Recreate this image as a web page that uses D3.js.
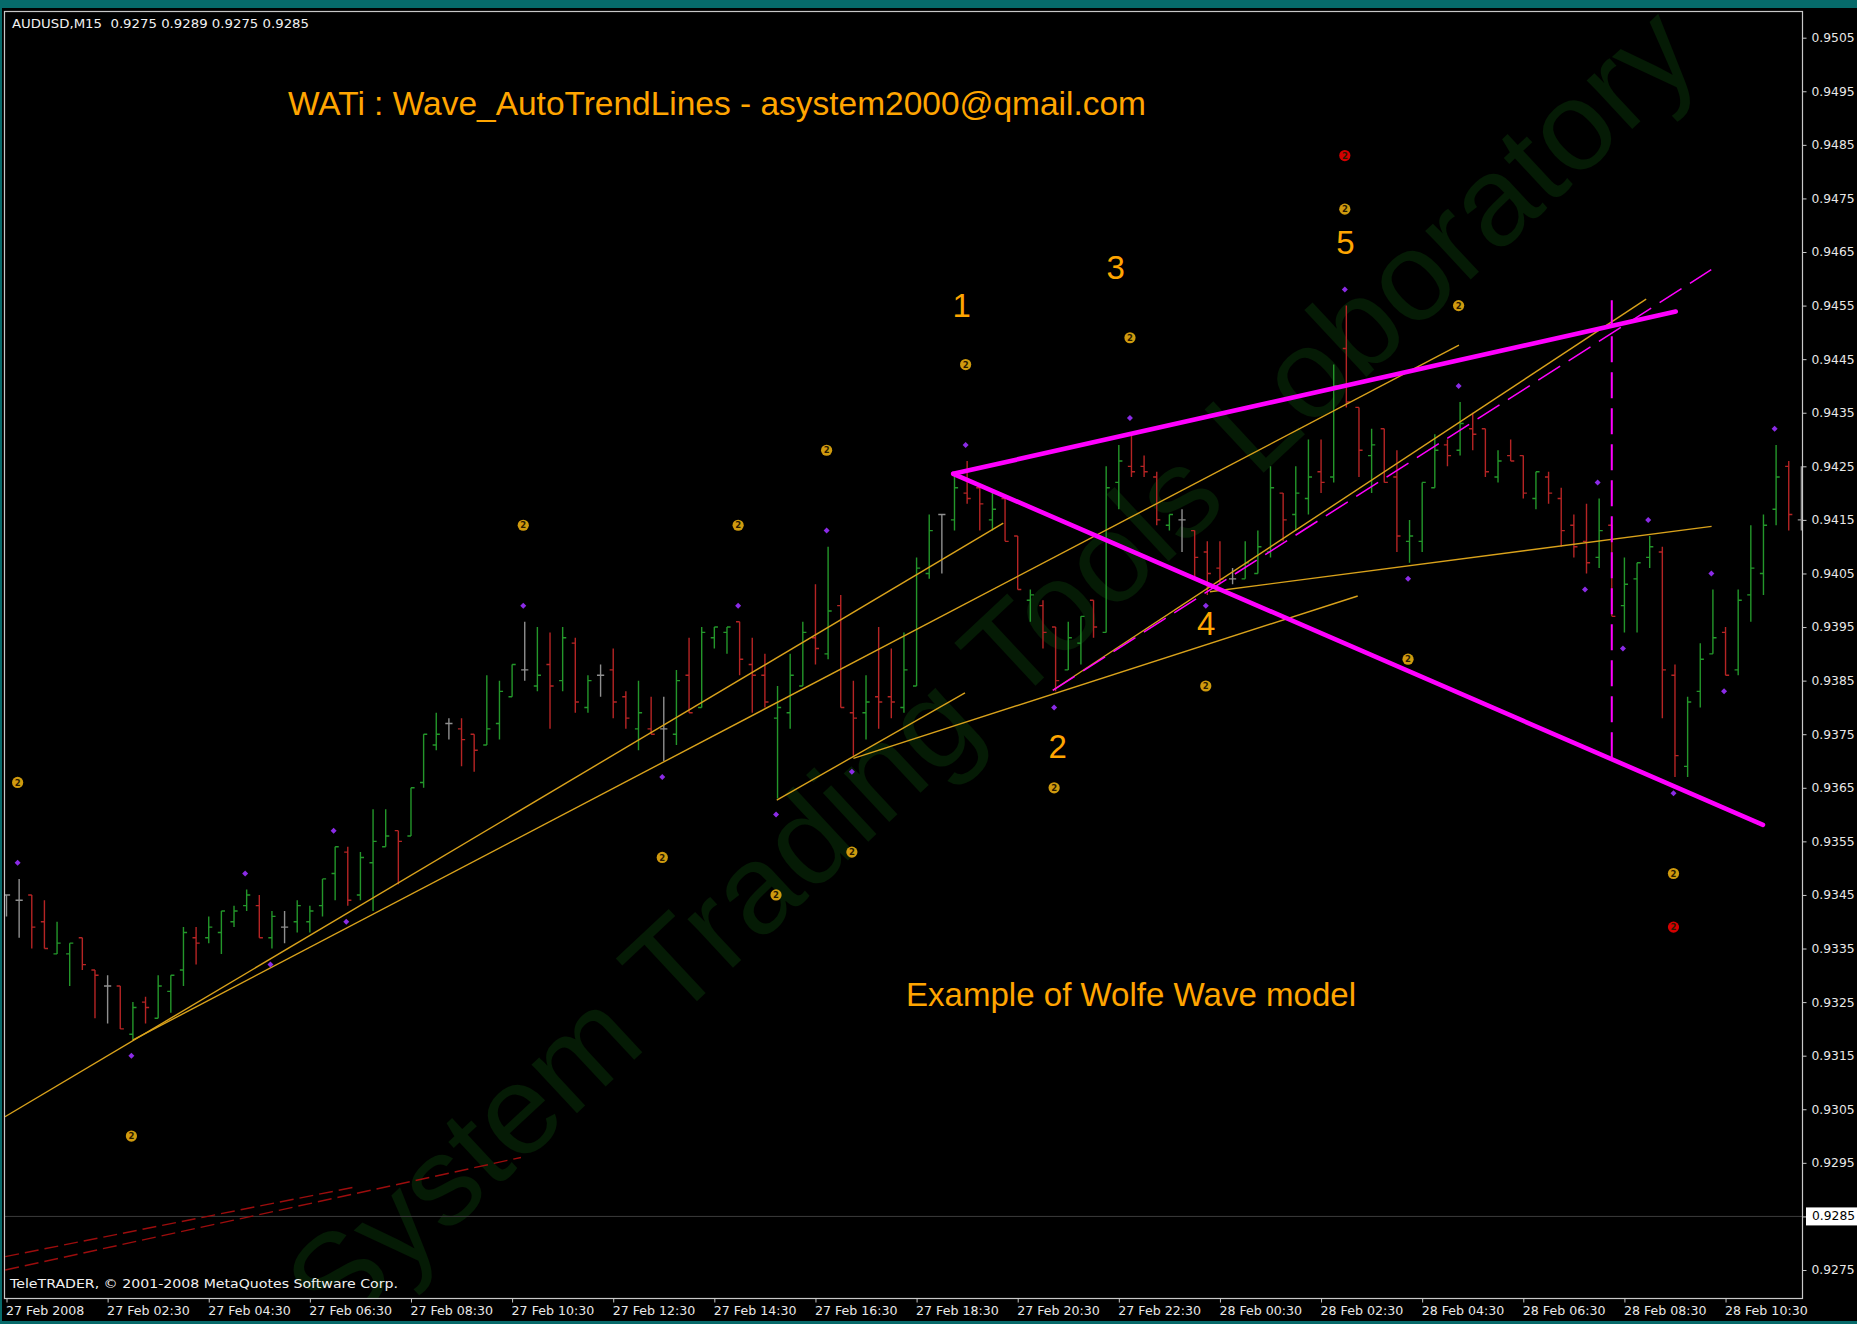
<!DOCTYPE html>
<html><head><meta charset="utf-8">
<script src="https://cdn.jsdelivr.net/npm/d3@7"></script>
<style>
html,body{margin:0;padding:0;background:#000;overflow:hidden}
svg{display:block}
</style></head><body>
<svg id="chart" width="1857" height="1324"></svg>
<script>
// AUDUSD M15 bars, 27 Feb 2008 00:30 onwards
const barOpen = [
.9345,.9344,.9345,.9340,.9334,.9334,.9337,.9331,.9328,.9328,
.9319,.9325,.9322,.9327,.9331,.9337,.9337,.9338,.9340,.9343,
.9343,.9337,.9339,.9340,.9340,.9343,.9349,.9353,.9345,.9351,
.9354,.9357,.9356,.9366,.9373,.9377,.9376,.9375,.9373,.9377,
.9382,.9387,.9384,.9388,.9385,.9392,.9380,.9386,.9387,.9382,
.9376,.9376,.9376,.9375,.9386,.9380,.9393,.9394,.9396,.9388,
.9386,.9378,.9379,.9384,.9393,.9390,.9399,.9379,.9379,.9382,
.9382,.9380,.9384,.9405,.9416,.9415,.9420,.9421,.9415,.9419,
.9412,.9400,.9399,.9395,.9387,.9392,.9400,.9394,.9422,.9425,
.9425,.9423,.9414,.9415,.9413,.9409,.9406,.9404,.9404,.9405,
.9409,.9420,.9416,.9419,.9424,.9423,.9447,.9436,.9427,.9432,
.9423,.9411,.9411,.9421,.9429,.9428,.9432,.9432,.9423,.9427,
.9427,.9419,.9423,.9419,.9414,.9411,.9408,.9414,.9399,.9404,
.9408,.9409,.9386,.9369,.9383,.9390,.9394,.9387,.9401,.9405,
.9417,.9425,.9415];
const barHigh = [
.9345,.9348,.9345,.9344,.9340,.9336,.9337,.9331,.9330,.9328,
.9325,.9326,.9330,.9330,.9339,.9339,.9341,.9342,.9343,.9346,
.9345,.9342,.9342,.9344,.9343,.9348,.9354,.9354,.9353,.9361,
.9361,.9357,.9365,.9375,.9379,.9378,.9378,.9375,.9386,.9385,
.9388,.9396,.9395,.9394,.9395,.9393,.9386,.9388,.9391,.9383,
.9385,.9382,.9382,.9387,.9393,.9395,.9395,.9395,.9396,.9393,
.9390,.9384,.9390,.9396,.9403,.9410,.9401,.9385,.9386,.9395,
.9391,.9394,.9408,.9416,.9416,.9424,.9426,.9421,.9420,.9419,
.9412,.9402,.9400,.9395,.9396,.9397,.9400,.9425,.9429,.9431,
.9427,.9424,.9416,.9417,.9413,.9411,.9411,.9406,.9411,.9413,
.9425,.9420,.9425,.9430,.9430,.9444,.9455,.9436,.9432,.9432,
.9428,.9415,.9422,.9431,.9430,.9437,.9435,.9432,.9428,.9430,
.9427,.9424,.9424,.9421,.9416,.9418,.9419,.9414,.9408,.9407,
.9412,.9410,.9388,.9382,.9392,.9402,.9395,.9402,.9414,.9416,
.9429,.9426,.9425];
const barLow = [
.9341,.9337,.9335,.9335,.9334,.9328,.9331,.9322,.9321,.9320,
.9318,.9321,.9322,.9323,.9328,.9332,.9336,.9334,.9339,.9342,
.9337,.9335,.9336,.9338,.9338,.9341,.9344,.9343,.9344,.9342,
.9354,.9347,.9356,.9365,.9372,.9374,.9369,.9368,.9373,.9374,
.9382,.9385,.9383,.9376,.9383,.9379,.9379,.9382,.9378,.9376,
.9372,.9375,.9370,.9373,.9379,.9380,.9391,.9390,.9386,.9379,
.9380,.9363,.9376,.9384,.9388,.9389,.9380,.9371,.9374,.9376,
.9378,.9379,.9384,.9404,.9405,.9413,.9418,.9413,.9413,.9411,
.9402,.9396,.9391,.9383,.9387,.9388,.9393,.9394,.9417,.9423,
.9423,.9414,.9413,.9409,.9404,.9401,.9403,.9403,.9404,.9405,
.9408,.9411,.9413,.9416,.9420,.9422,.9436,.9423,.9420,.9422,
.9409,.9407,.9409,.9421,.9425,.9427,.9428,.9423,.9422,.9426,
.9419,.9417,.9418,.9410,.9408,.9405,.9406,.9397,.9394,.9394,
.9406,.9378,.9367,.9367,.9380,.9390,.9386,.9386,.9396,.9401,
.9414,.9413,.9413];
const barClose = [
.9345,.9344,.9339,.9335,.9336,.9336,.9332,.9330,.9328,.9320,
.9324,.9324,.9328,.9330,.9338,.9336,.9339,.9342,.9342,.9345,
.9337,.9341,.9339,.9343,.9342,.9348,.9354,.9344,.9352,.9355,
.9356,.9355,.9365,.9375,.9375,.9377,.9374,.9372,.9376,.9383,
.9388,.9387,.9386,.9384,.9393,.9381,.9385,.9386,.9381,.9378,
.9379,.9375,.9376,.9385,.9379,.9394,.9395,.9395,.9389,.9386,
.9381,.9380,.9386,.9394,.9391,.9398,.9380,.9378,.9381,.9381,
.9381,.9387,.9406,.9413,.9416,.9421,.9419,.9418,.9417,.9411,
.9402,.9401,.9394,.9385,.9393,.9397,.9395,.9421,.9426,.9424,
.9424,.9415,.9416,.9415,.9408,.9405,.9404,.9404,.9407,.9410,
.9421,.9415,.9420,.9423,.9422,.9440,.9437,.9428,.9429,.9422,
.9412,.9412,.9422,.9428,.9427,.9433,.9431,.9424,.9426,.9426,
.9420,.9424,.9420,.9413,.9410,.9407,.9413,.9397,.9403,.9407,
.9410,.9387,.9371,.9381,.9389,.9393,.9386,.9400,.9406,.9414,
.9423,.9416,.9415];

// time axis labels, one every 8 bars (2 hours)
const timeLabels = ["27 Feb 2008","27 Feb 02:30","27 Feb 04:30","27 Feb 06:30","27 Feb 08:30",
  "27 Feb 10:30","27 Feb 12:30","27 Feb 14:30","27 Feb 16:30","27 Feb 18:30","27 Feb 20:30",
  "27 Feb 22:30","28 Feb 00:30","28 Feb 02:30","28 Feb 04:30","28 Feb 06:30","28 Feb 08:30","28 Feb 10:30"];
const priceTicks = [0.9275,0.9285,0.9295,0.9305,0.9315,0.9325,0.9335,0.9345,0.9355,0.9365,0.9375,0.9385,
  0.9395,0.9405,0.9415,0.9425,0.9435,0.9445,0.9455,0.9465,0.9475,0.9485,0.9495,0.9505];
const bidPrice = 0.9285;

// fractal points: [bar, price]
const fractalDots = [[1,.9351],[10,.9315],[19,.9349],[21,.9332],[26,.9357],[27,.9340],[41,.9399],[52,.9367],
  [58,.9399],[61,.9360],[65,.9413],[67,.9368],[76,.9429],[83,.9380],[89,.9434],[95,.9399],[106,.9458],
  [111,.9404],[115,.9440],[125,.9402],[126,.9422],[128,.9391],[130,.9415],[132,.9364],[135,.9405],
  [136,.9383],[140,.9432]];
const waveCoins = [[1,.9366],[10,.9300],[41,.9414],[52,.9352],[58,.9414],[61,.9345],[65,.9428],[67,.9353],
  [76,.9444],[83,.9365],[89,.9449],[95,.9384],[106,.9473],[111,.9389],[115,.9455],[132,.9349]];
const alertCoins = [[106,.9483],[132,.9339]];

// auto trend lines: [bar1, price1, bar2, price2]
const trendLines = [
  [-0.12,.93036,78.86,.94144],
  [9.98,.93179,114.91,.94476],
  [60.94,.93627,75.83,.93827],
  [67.0,.93705,106.9,.94008],
  [82.78,.93832,129.72,.94562],
  [95.2,.94016,134.9,.94138]];
const oldLines = [
  [-0.1,.92750,40.7,.92960],
  [-0.1,.92775,27.6,.92905]];
const wolfeLines = [
  [74.9,.94236,132.06,.94539],
  [74.9,.94236,138.96,.93581]];
const wolfeTarget = [[82.78,.93832,134.87,.94617]];
const wolfeTime = [[127.0,.94560,127.0,.93706]];
const waveLabels = [["1",75.57,.94528],["2",83.16,.93706],["3",87.75,.94599],["4",94.92,.93935],["5",105.93,.94646]];

const W = 1857, H = 1324;
const plot = {left:5, right:1802, top:12, bottom:1298};
const svg = d3.select("#chart");

svg.append("rect").attr("width",W).attr("height",H).attr("fill","#000");
// terminal window frame
svg.append("rect").attr("x",0).attr("y",0).attr("width",W).attr("height",8).attr("fill","#066a6a");
svg.append("rect").attr("x",0).attr("y",0).attr("width",2).attr("height",H).attr("fill","#066a6a");
svg.append("rect").attr("x",0).attr("y",H-3).attr("width",W).attr("height",3).attr("fill","#066a6a");

const x = d3.scaleLinear().domain([0,142]).range([6.5, 6.5 + 12.64*142]);
const y = d3.scaleLinear().domain([0.9275,0.9505]).range([1270, 37.7]);

svg.append("clipPath").attr("id","plotClip").append("rect")
  .attr("x",plot.left).attr("y",plot.top).attr("width",plot.right-plot.left).attr("height",plot.bottom-plot.top);
const g = svg.append("g").attr("clip-path","url(#plotClip)");

// watermark
g.append("text")
  .attr("transform","translate(1020,700) rotate(-43)")
  .attr("text-anchor","middle")
  .attr("font-family","Liberation Sans, Arial, sans-serif")
  .attr("font-size",126)
  .attr("textLength",1870).attr("lengthAdjust","spacingAndGlyphs")
  .attr("fill","#051b05")
  .text("System Trading Tools Loboratory");

// bid line
g.append("line").attr("x1",plot.left).attr("x2",plot.right)
  .attr("y1",y(bidPrice)).attr("y2",y(bidPrice)).attr("stroke","#3c3c3c").attr("stroke-width",1);

// bars
const barIdx = d3.range(barOpen.length);
const barColor = i => barClose[i] > barOpen[i] ? "#23962a" : (barClose[i] < barOpen[i] ? "#b52424" : "#8f8f8f");
g.append("g").selectAll("path").data(barIdx).join("path")
  .attr("d", i => {
    const cx = x(i);
    return `M${cx},${y(barHigh[i])}V${y(barLow[i])}M${cx-3.6},${y(barOpen[i])}H${cx}M${cx},${y(barClose[i])}H${cx+3.6}`;
  })
  .attr("fill","none").attr("stroke", barColor).attr("stroke-width",1.4);

// trend lines
const seg = (sel, data) => sel.selectAll("line").data(data).join("line")
  .attr("x1",d=>x(d[0])).attr("y1",d=>y(d[1])).attr("x2",d=>x(d[2])).attr("y2",d=>y(d[3]));
seg(g.append("g"), trendLines).attr("stroke","#d9a21b").attr("stroke-width",1.4);
seg(g.append("g"), oldLines).attr("stroke","#9c0d0d").attr("stroke-width",1.4).attr("stroke-dasharray","14,6");
seg(g.append("g"), wolfeTarget).attr("stroke","#ff00ff").attr("stroke-width",1.5).attr("stroke-dasharray","26,10");
seg(g.append("g"), wolfeTime).attr("stroke","#ff00ff").attr("stroke-width",2).attr("stroke-dasharray","26,10");
seg(g.append("g"), wolfeLines).attr("stroke","#ff00ff").attr("stroke-width",4.6).attr("stroke-linecap","round");

// fractal dots
g.append("g").selectAll("path").data(fractalDots).join("path")
  .attr("d", d => { const cx = x(d[0]) - 1.5, cy = y(d[1]);
    return `M${cx},${cy-3}L${cx+3},${cy}L${cx},${cy+3}L${cx-3},${cy}Z`; })
  .attr("fill","#8b2be6");

// coin markers
const coins = (data, fill) => {
  const cg = g.append("g").selectAll("g").data(data).join("g")
    .attr("transform", d => `translate(${x(d[0]) - 1.5},${y(d[1])})`);
  cg.append("circle").attr("r",5.6).attr("fill",fill);
  cg.append("text").attr("text-anchor","middle").attr("dy","3.2")
    .attr("font-family","DejaVu Sans, sans-serif").attr("font-weight","bold").attr("font-size",8.5)
    .attr("fill","#2a1a00").text("2");
};
coins(waveCoins, "#cf9a0e");
coins(alertCoins, "#d40000");

// wave numbers
g.append("g").selectAll("text").data(waveLabels).join("text")
  .attr("x", d => x(d[1])).attr("y", d => y(d[2]))
  .attr("text-anchor","middle")
  .attr("font-family","Liberation Sans, Arial, sans-serif").attr("font-size",33)
  .attr("fill","#ffa500").text(d => d[0]);

// annotations
g.append("text").attr("x",288).attr("y",115)
  .attr("font-family","Liberation Sans, Arial, sans-serif").attr("font-size",33)
  .attr("textLength",858).attr("lengthAdjust","spacingAndGlyphs")
  .attr("fill","#ffa500").text("WATi : Wave_AutoTrendLines - asystem2000@qmail.com");
g.append("text").attr("x",906).attr("y",1006)
  .attr("font-family","Liberation Sans, Arial, sans-serif").attr("font-size",33)
  .attr("textLength",450).attr("lengthAdjust","spacingAndGlyphs")
  .attr("fill","#ffa500").text("Example of Wolfe Wave model");
g.append("text").attr("x",12).attr("y",28)
  .attr("font-family","DejaVu Sans, sans-serif").attr("font-size",13)
  .attr("textLength",297).attr("lengthAdjust","spacingAndGlyphs")
  .attr("fill","#f0f0f0").attr("xml:space","preserve")
  .text("AUDUSD,M15  0.9275 0.9289 0.9275 0.9285");
g.append("text").attr("x",10).attr("y",1288)
  .attr("font-family","DejaVu Sans, sans-serif").attr("font-size",13)
  .attr("textLength",388).attr("lengthAdjust","spacingAndGlyphs")
  .attr("fill","#f0f0f0").text("TeleTRADER, \u00a9 2001-2008 MetaQuotes Software Corp.");

// plot border
svg.append("rect").attr("x",plot.left-0.5).attr("y",plot.top-0.5)
  .attr("width",plot.right-plot.left+1).attr("height",plot.bottom-plot.top+1)
  .attr("fill","none").attr("stroke","#c8c8c8").attr("stroke-width",1.2);

// price axis
const yAxis = d3.axisRight(y).tickValues(priceTicks).tickFormat(d3.format(".4f")).tickSize(4).tickPadding(5);
const ya = svg.append("g").attr("transform",`translate(${plot.right+0.5},0)`).call(yAxis);
ya.select(".domain").remove();
ya.selectAll("line").attr("stroke","#c8c8c8");
ya.selectAll("text").attr("fill","#e8e8e8").attr("font-family","DejaVu Sans, sans-serif").attr("font-size",12.3);

// bid price label
const bidG = svg.append("g").attr("transform",`translate(${plot.right+4},${y(bidPrice)})`);
bidG.append("rect").attr("x",0).attr("y",-9).attr("width",51).attr("height",18).attr("fill","#ffffff");
bidG.append("text").attr("x",6).attr("dy","0.32em").attr("fill","#000")
  .attr("font-family","DejaVu Sans, sans-serif").attr("font-size",12.3).text(d3.format(".4f")(bidPrice));

// time axis
const tickBars = timeLabels.map((_, k) => k * 8);
const xAxis = d3.axisBottom(x).tickValues(tickBars).tickFormat((d, k) => timeLabels[k]).tickSize(4).tickPadding(4);
const xa = svg.append("g").attr("transform",`translate(0,${plot.bottom+0.5})`).call(xAxis);
xa.select(".domain").remove();
xa.selectAll("line").attr("stroke","#c8c8c8");
xa.selectAll("text").attr("fill","#e8e8e8").attr("text-anchor","start").attr("dx","-1")
  .attr("font-family","DejaVu Sans, sans-serif").attr("font-size",12.6);
</script>
</body></html>
